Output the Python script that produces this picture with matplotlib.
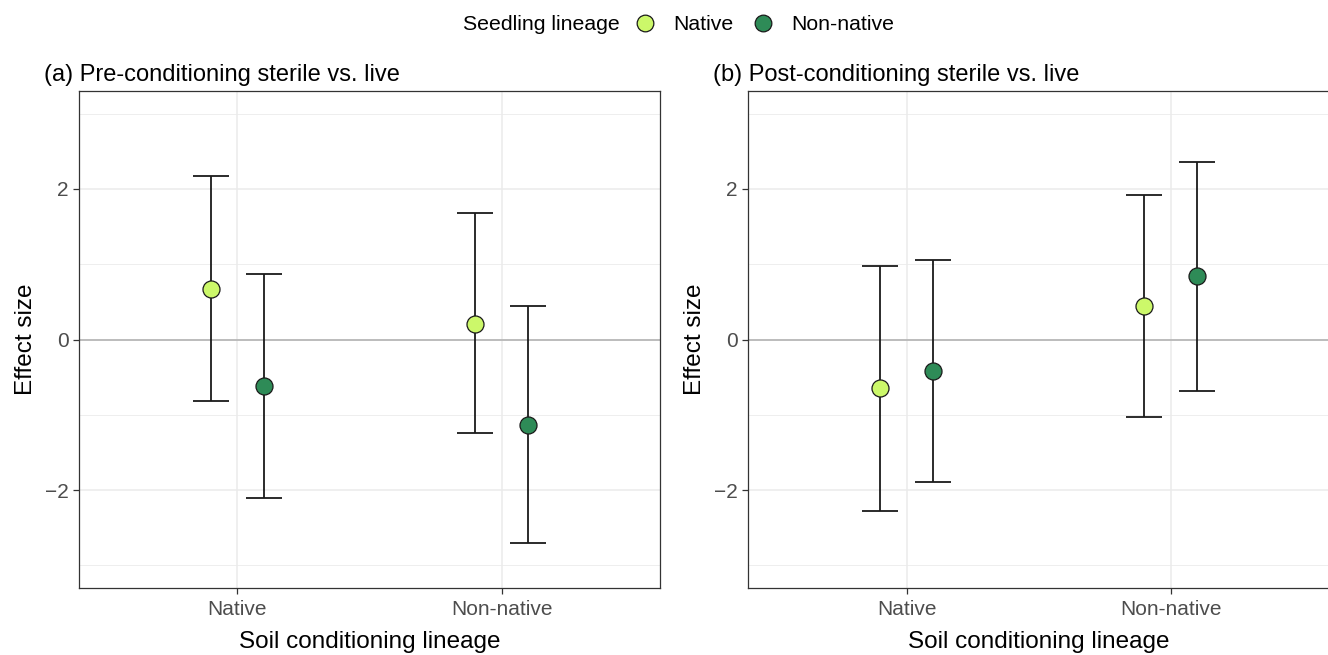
import matplotlib.pyplot as plt
from matplotlib.lines import Line2D
import numpy as np

plt.rcParams['font.family'] = ['Liberation Sans', 'DejaVu Sans']

soil_lineage = ["Native", "Non-native"]
seedling_lineage = ["Native", "Non-native"]
panel_titles = ["(a) Pre-conditioning sterile vs. live",
                "(b) Post-conditioning sterile vs. live"]

# effect sizes [soil][seedling]
pre_mean = [[0.67, -0.62], [0.21, -1.14]]
pre_low = [[-0.82, -2.11], [-1.24, -2.70]]
pre_high = [[2.17, 0.87], [1.68, 0.44]]

post_mean = [[-0.65, -0.42], [0.44, 0.85]]
post_low = [[-2.28, -1.89], [-1.03, -0.68]]
post_high = [[0.97, 1.05], [1.92, 2.36]]

colors = {"Native": "#CCF86A", "Non-native": "#2E8B57"}
dodge = 0.1

fig = plt.figure(figsize=(13.28, 6.55), dpi=100)
ax_a = fig.add_axes([0.0595, 0.1023, 0.4375, 0.7587])
ax_b = fig.add_axes([0.5633, 0.1023, 0.4375, 0.7587])

panels = [(ax_a, pre_mean, pre_low, pre_high),
          (ax_b, post_mean, post_low, post_high)]

for i, (ax, mean, low, high) in enumerate(panels):
    mean, low, high = np.array(mean), np.array(low), np.array(high)
    ax.axhline(0, color="#B3B3B3", lw=1.2, zorder=1)
    for j, seed in enumerate(seedling_lineage):
        x = np.arange(1, len(soil_lineage) + 1) + (j - 0.5) * 2 * dodge
        y = mean[:, j]
        ax.errorbar(x, y, yerr=[y - low[:, j], high[:, j] - y], fmt="none",
                    ecolor="#1a1a1a", elinewidth=1.3, capsize=13, capthick=1.3, zorder=2)
        ax.scatter(x, y, s=150, color=colors[seed], edgecolor="#1a1a1a",
                   linewidth=0.9, zorder=3)

    ax.set_xlim(0.4, 2.6)
    ax.set_ylim(-3.3, 3.3)
    ax.set_xticks([1, 2])
    ax.set_xticklabels(soil_lineage)
    ax.set_yticks([-2, 0, 2])
    ax.set_yticklabels(["\u22122", "0", "2"])
    ax.set_yticks([-3, -1, 1, 3], minor=True)
    ax.grid(True, which="major", color="#EBEBEB", lw=1.1, zorder=0)
    ax.grid(True, which="minor", axis="y", color="#EBEBEB", lw=0.6, zorder=0)
    ax.set_axisbelow(True)
    ax.tick_params(which="major", length=4, width=0.9, color="#333333",
                   labelcolor="#4D4D4D", labelsize=15)
    ax.tick_params(axis="x", pad=5)
    ax.tick_params(which="minor", length=0)
    for s in ax.spines.values():
        s.set_color("#333333")
        s.set_linewidth(0.9)
    ax.set_xlabel("Soil conditioning lineage", fontsize=17.5, labelpad=8)
    ax.set_ylabel("Effect size", fontsize=17.5, labelpad=6)
    ax.set_title(panel_titles[i], loc="left", fontsize=17, x=-0.06, pad=7)

# legend at top: title as text, entries as figure legend
fig.text(0.3487, 0.962, "Seedling lineage", fontsize=15.3, ha="left", va="center")
handles = [Line2D([], [], marker="o", ls="none", markersize=12,
                  markerfacecolor=colors[s], markeredgecolor="#1a1a1a",
                  markeredgewidth=0.9) for s in seedling_lineage]
fig.legend(handles, seedling_lineage, ncol=2, loc="center left",
           bbox_to_anchor=(0.4778, 0.962), frameon=False, fontsize=15.3,
           handlelength=1.0, handletextpad=0.83, columnspacing=0.88,
           borderaxespad=0, borderpad=0)

fig.savefig("out.png", dpi=100)
